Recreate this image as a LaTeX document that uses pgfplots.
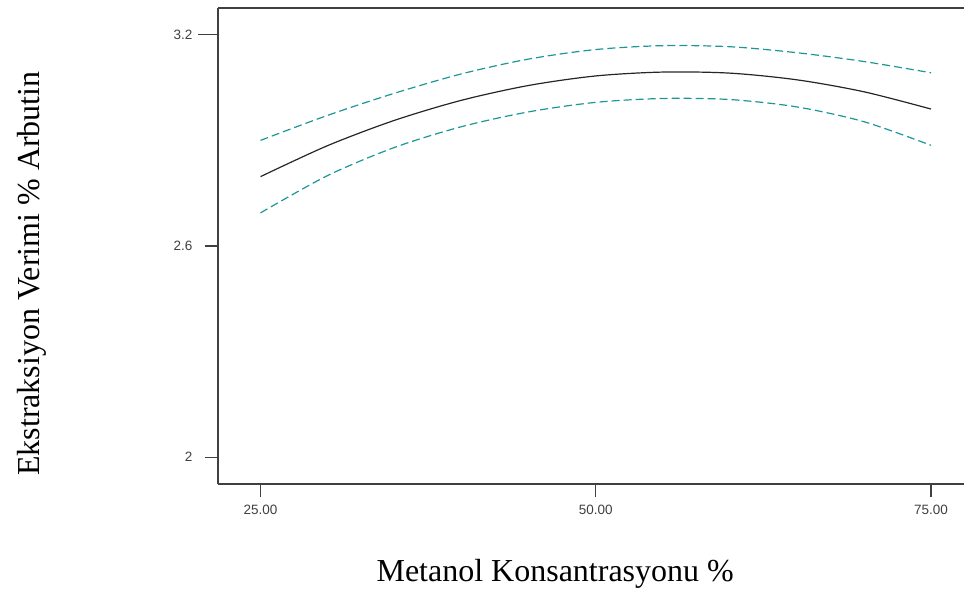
\documentclass[border=0pt]{standalone}
\usepackage{pgfplots}
\pgfplotsset{compat=1.18}
\usepackage{fontspec}
\setmainfont{Liberation Serif}
\newfontfamily\arial{Liberation Sans}
\definecolor{teal1}{RGB}{30,150,150}
\definecolor{axgray}{RGB}{64,64,64}
\begin{document}
\begin{tikzpicture}
\path[use as bounding box] (0,0) rectangle (964bp,590bp);
\begin{axis}[
  at={(218bp,106bp)}, anchor=south west,
  scale only axis, width=746bp, height=476bp,
  xmin=21.83, xmax=77.46, ymin=1.924, ymax=3.276,
  axis x line=box, axis y line=left,
  axis line style={-, draw=axgray, line width=1.2bp},
  every outer x axis line/.append style={-},
  every outer y axis line/.append style={-},
  xtick={25,50,75}, xticklabels={25.00,50.00,75.00},
  ytick={2,2.6,3.2}, yticklabels={2,2.6,3.2},
  xtick pos=bottom, ytick pos=left,
  tick align=outside,
  major tick length=13bp,
  y tick style={draw=axgray, line width=1.2bp, shorten <=-7bp},
  x tick style={draw=axgray, line width=1.2bp},
  /pgf/number format/assume math mode=true,
  ticklabel style={font=\arial\fontsize{13.5bp}{15bp}\selectfont, text=axgray},
  xticklabel style={yshift=-5bp},
  yticklabel style={xshift=-9bp},
  xlabel={Metanol Konsantrasyonu \%},
  ylabel={Ekstraksiyon Verimi \% Arbutin},
  every axis x label/.style={at={(rel axis cs:0.452,-0.2038)}, anchor=base},
  every axis y label/.style={at={(rel axis cs:-0.2399,0.442)}, rotate=90, anchor=base},
  label style={font=\fontsize{32bp}{36bp}\selectfont},
]
\addplot[teal1, line width=1.2bp, dash pattern=on 8bp off 4bp, smooth] coordinates {
(25,2.900) (30,2.971) (35,3.034) (40,3.089) (45,3.131) (50,3.158) (55,3.169) (60,3.166) (65,3.149) (70,3.124) (75,3.092)};
\addplot[black!85, line width=1.2bp, smooth] coordinates {
(25,2.797) (30,2.885) (35,2.957) (40,3.014) (45,3.056) (50,3.083) (55,3.094) (60,3.091) (65,3.072) (70,3.038) (75,2.989)};
\addplot[teal1, line width=1.2bp, dash pattern=on 8bp off 4bp, smooth] coordinates {
(25,2.694) (30,2.800) (35,2.880) (40,2.939) (45,2.981) (50,3.008) (55,3.019) (60,3.016) (65,2.995) (70,2.953) (75,2.886)};
\end{axis}
\end{tikzpicture}
\end{document}
